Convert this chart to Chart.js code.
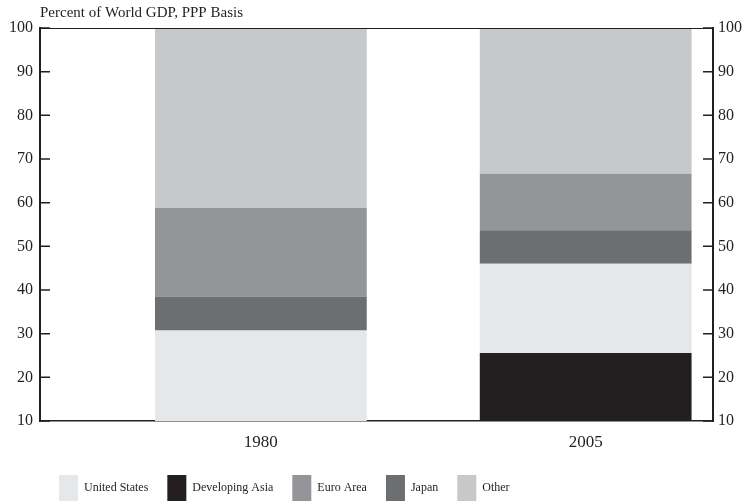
<!DOCTYPE html>
<html>
<head>
<meta charset="utf-8">
<script src="https://cdn.jsdelivr.net/npm/chart.js@4"></script>
<style>
  html, body { margin: 0; padding: 0; background: #fff; }
  #wrap { width: 745px; height: 501px; }
</style>
</head>
<body>
<div id="wrap"><canvas id="gdpChart"></canvas></div>
<script>
const years = [1980, 2005];
const developingAsia = [9, 25.6];
const unitedStates = [21.7, 20.4];
const japan = [7.8, 7.7];
const euroArea = [20.3, 12.9];
const other = [41.2, 33.4];
const legendOrder = ["United States", "Developing Asia", "Euro Area", "Japan", "Other"];
const chartTitle = "Percent of World GDP, PPP Basis";

const ink = "#231f20";
const serif = "'Liberation Serif', 'DejaVu Serif', serif";

function points(values) {
  return values.map((v, i) => ({ x: years[i], y: v }));
}

// legend keeps its side padding but sits flush with the bottom edge
const legendHeightPlugin = {
  id: "legendHeight",
  beforeLayout(chart) {
    const legend = chart.legend;
    if (legend && !legend._fitPatched) {
      const fit = legend.fit;
      legend.fit = function () {
        fit.call(this);
        this.height = 45;
      };
      legend._fitPatched = true;
    }
  },
};

// frame, inward tick marks and the title above the plot
const framePlugin = {
  id: "frame",
  afterDraw(chart) {
    const { ctx, chartArea } = chart;
    const y = chart.scales.y;
    ctx.save();
    ctx.strokeStyle = ink;
    ctx.lineWidth = 1.2;
    ctx.beginPath();
    ctx.moveTo(chartArea.left, chartArea.top + 0.5);
    ctx.lineTo(chartArea.right, chartArea.top + 0.5);
    ctx.stroke();

    ctx.lineWidth = 1.5;
    y.ticks.forEach((t) => {
      const py = y.getPixelForValue(t.value);
      ctx.beginPath();
      ctx.moveTo(chartArea.left, py);
      ctx.lineTo(chartArea.left + 10, py);
      ctx.moveTo(chartArea.right, py);
      ctx.lineTo(chartArea.right - 10, py);
      ctx.stroke();
    });

    ctx.fillStyle = ink;
    ctx.font = "15px " + serif;
    ctx.textAlign = "left";
    ctx.textBaseline = "middle";
    ctx.fillText(chartTitle, chartArea.left, 13);
    ctx.restore();
  },
};

new Chart(document.getElementById("gdpChart"), {
  type: "bar",
  data: {
    datasets: [
      { label: "Developing Asia", data: points(developingAsia), backgroundColor: "#231f20" },
      { label: "United States", data: points(unitedStates), backgroundColor: "#e6e7e8" },
      { label: "Japan", data: points(japan), backgroundColor: "#6d6e70" },
      { label: "Euro Area", data: points(euroArea), backgroundColor: "#939598" },
      { label: "Other", data: points(other), backgroundColor: "#c7c8ca" },
    ],
  },
  plugins: [legendHeightPlugin, framePlugin],
  options: {
    responsive: true,
    maintainAspectRatio: false,
    animation: false,
    categoryPercentage: 1,
    barPercentage: 0.652,
    layout: {
      padding: { top: 28, bottom: 0, left: 0, right: 0 },
    },
    plugins: {
      tooltip: { enabled: false },
      legend: {
        position: "bottom",
        align: "start",
        fullSize: false,
        labels: {
          color: ink,
          boxWidth: 19,
          boxHeight: 26,
          padding: 19,
          font: { family: serif, size: 12 },
          sort: (a, b) => legendOrder.indexOf(a.text) - legendOrder.indexOf(b.text),
        },
      },
    },
    scales: {
      x: {
        type: "linear",
        stacked: true,
        offset: false,
        min: 1963,
        max: 2014.8,
        afterBuildTicks(scale) {
          scale.ticks = years.map((v) => ({ value: v }));
        },
        afterFit(scale) {
          scale.height = 35;
        },
        ticks: {
          color: ink,
          padding: 11,
          font: { family: serif, size: 17 },
          callback: (v) => String(v),
        },
        grid: { display: false, drawTicks: false },
        border: { color: ink, width: 1.5 },
      },
      y: {
        stacked: true,
        min: 10,
        max: 100,
        position: "left",
        afterFit(scale) {
          scale.width = 40;
        },
        ticks: {
          stepSize: 10,
          color: ink,
          padding: 7,
          font: { family: serif, size: 16 },
        },
        grid: { display: false, drawTicks: false },
        border: { color: ink, width: 2 },
      },
      y2: {
        min: 10,
        max: 100,
        position: "right",
        afterFit(scale) {
          scale.width = 32;
        },
        ticks: {
          stepSize: 10,
          color: ink,
          padding: 5,
          font: { family: serif, size: 16 },
        },
        grid: { display: false, drawTicks: false },
        border: { color: ink, width: 2 },
      },
    },
  },
});
</script>
</body>
</html>
